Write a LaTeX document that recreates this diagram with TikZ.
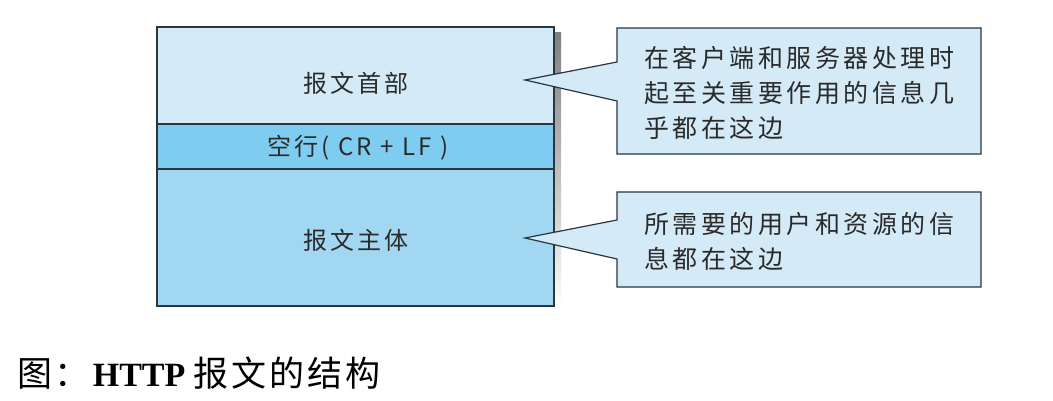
\documentclass[tikz,border=0pt]{standalone}
\usepackage{fontspec}
\setmainfont{Liberation Serif}
\newfontfamily\cjk{Noto Sans CJK SC}
\newfontfamily\cjkcap{Noto Sans CJK SC}
\newcommand\capcjk{\cjkcap\fontsize{35}{38}\selectfont\addfontfeatures{LetterSpace=8}}
\definecolor{headfill}{HTML}{D4EBF7}
\definecolor{blankfill}{HTML}{7ECDF0}
\definecolor{bodyfill}{HTML}{A2D7F2}
\definecolor{notefill}{HTML}{D4EBF7}
\definecolor{edge}{HTML}{2B3540}
\definecolor{shade}{HTML}{8C8C8C}
\definecolor{txt}{HTML}{2A2A2A}
\tikzset{
  part/.style={draw=edge, line width=1.2pt},
  note/.style={draw=edge, line width=1.2pt, fill=notefill},
  boxlabel/.style={text=txt, font=\cjk\fontsize{24}{27}\selectfont\addfontfeatures{LetterSpace=13}},
  notelabel/.style={text=txt, anchor=north west, align=left, inner sep=0pt,
    font=\cjk\fontsize{25}{35}\selectfont\addfontfeatures{LetterSpace=14}},
}
\begin{document}
\begin{tikzpicture}[x=1pt,y=-1pt]
\useasboundingbox[fill=white] (0,0) rectangle (1053,401);
% shadow
\fill[shade] (163,33) rectangle (561,312);
% parts
\draw[part, fill=headfill] (157,27) rectangle (554,124);
\draw[part, fill=blankfill] (157,124) rectangle (554,169);
\draw[part, fill=bodyfill] (157,169) rectangle (554,306);
\node[boxlabel] (head) at (356,83) {报文首部};
\node[boxlabel] (blank) at (358,148) {空行( CR + LF )};
\node[boxlabel] (body) at (356,240) {报文主体};
% callouts
\coordinate (t1) at (525,80);
\coordinate (t2) at (525,238);
\draw[note] (617,28) -- (981,28) -- (981,154) -- (617,154) -- (617,101) -- (t1) -- (617,62) -- cycle;
\draw[note] (617,192) -- (981,192) -- (981,287) -- (617,287) -- (617,259) -- (t2) -- (617,220) -- cycle;
\node[notelabel] (n1) at (644,46) {在客户端和服务器处理时\\起至关重要作用的信息几\\乎都在这边};
\node[notelabel] (n2) at (644,212) {所需要的用户和资源的信\\息都在这边};
% caption
\node[anchor=west, inner sep=0pt, font=\fontsize{34}{36}\selectfont] (cap) at (17,373)
  {{\capcjk 图：}\textbf{HTTP} {\capcjk 报文的结构}};
\end{tikzpicture}
\end{document}
